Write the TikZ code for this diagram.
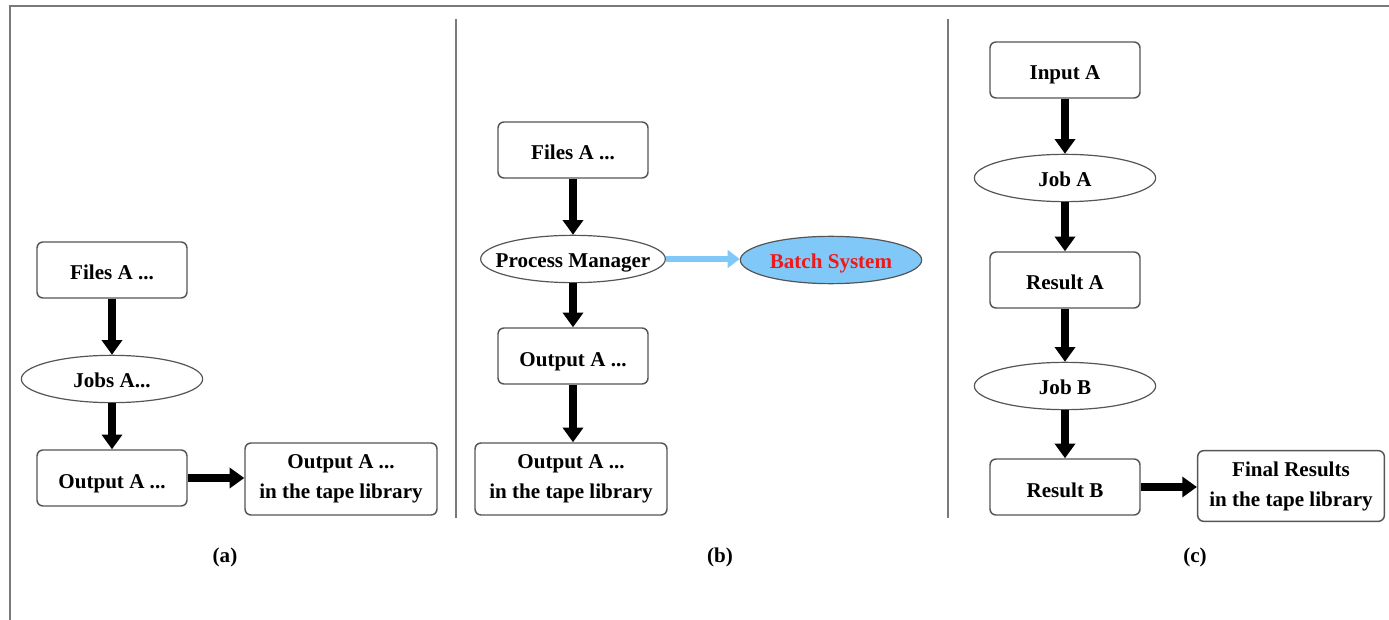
\documentclass[tikz,border=0pt]{standalone}
\usepackage{fontspec}
\setmainfont{Liberation Serif}
\usetikzlibrary{arrows.meta,shapes.geometric}
\definecolor{edgegray}{HTML}{555555}
\definecolor{framegray}{HTML}{7A7A7A}
\definecolor{batchblue}{HTML}{80C8F8}
\definecolor{batchred}{HTML}{F01818}
\tikzset{
  lbl/.style={font=\fontsize{15.8}{22.5}\selectfont\bfseries},
  framed/.style={draw=edgegray, line width=1.1pt, rounded corners=4.5pt, fill=white,
    minimum width=112.5pt, minimum height=42pt, inner sep=0pt, align=center, lbl},
  box/.style={framed, text height=15pt, text depth=0pt},
  widebox/.style={framed, minimum width=144pt, minimum height=54pt},
  oval/.style={draw=edgegray, line width=0.9pt, ellipse, fill=white,
    minimum width=136pt, minimum height=35.5pt, inner xsep=-9pt, inner ysep=0pt,
    text height=12.5pt, text depth=0pt, lbl},
  flow/.style={line width=5.8pt, -{Triangle[width=15pt,length=11pt]}},
  blueflow/.style={draw=batchblue, line width=3.8pt, -{Triangle[width=13pt,length=9pt]}},
  divider/.style={draw=framegray, line width=1.5pt},
  caption/.style={lbl}
}
\begin{document}
\begin{tikzpicture}[x=0.75pt, y=-0.75pt]
\useasboundingbox (0,0) rectangle (1389,620);
% outer frame (only its top and left sides fall inside the page)
\draw[framegray, line width=1.6pt] (1395,6) -- (10,6) -- (10,625);
% panel separators
\draw[divider] (456,19) -- (456,518);
\draw[divider] (948,19) -- (948,518);

% ---- panel (a)
\node[box]  (a1) at (112,270) {Files A ...};
\node[oval] (a2) at (112,379) {Jobs A...};
\node[box]  (a3) at (112,478) {Output A ...};
\node[widebox] (a4) at (341,479) {Output A ...\\in the tape library};
\draw[flow] (a1) -- (a2);
\draw[flow] (a2) -- (a3);
\draw[flow] (a3.east) -- (a3.east -| a4.west);
\node[caption] (ca) at (225,557) {(a)};

% ---- panel (b)
\node[box]  (b1) at (573,150) {Files A ...};
\node[oval] (b2) at (573,259) {Process Manager};
\node[oval, fill=batchblue, text=batchred] (b5) at (831,260) {Batch System};
\node[box]  (b3) at (573,356) {Output A ...};
\node[widebox] (b4) at (571,479) {Output A ...\\in the tape library};
\draw[flow] (b1) -- (b2);
\draw[flow] (b2) -- (b3);
\draw[flow] (b3) -- (b3 |- b4.north);
\draw[blueflow] (b2.east) -- (b2.east -| b5.west);
\node[caption] (cb) at (720,557) {(b)};

% ---- panel (c)
\node[box]  (c1) at (1065,70)  {Input A};
\node[oval] (c2) at (1065,178) {Job A};
\node[box]  (c3) at (1065,280) {Result A};
\node[oval] (c4) at (1065,386) {Job B};
\node[box]  (c5) at (1065,487) {Result B};
\node[widebox, minimum width=140pt, minimum height=53pt] (c6) at (1291,486) {Final Results\\in the tape library};
\draw[flow] (c1) -- (c2);
\draw[flow] (c2) -- (c3);
\draw[flow] (c3) -- (c4);
\draw[flow] (c4) -- (c5);
\draw[flow] (c5.east) -- (c5.east -| c6.west);
\node[caption] (cc) at (1195,557) {(c)};
\end{tikzpicture}
\end{document}
